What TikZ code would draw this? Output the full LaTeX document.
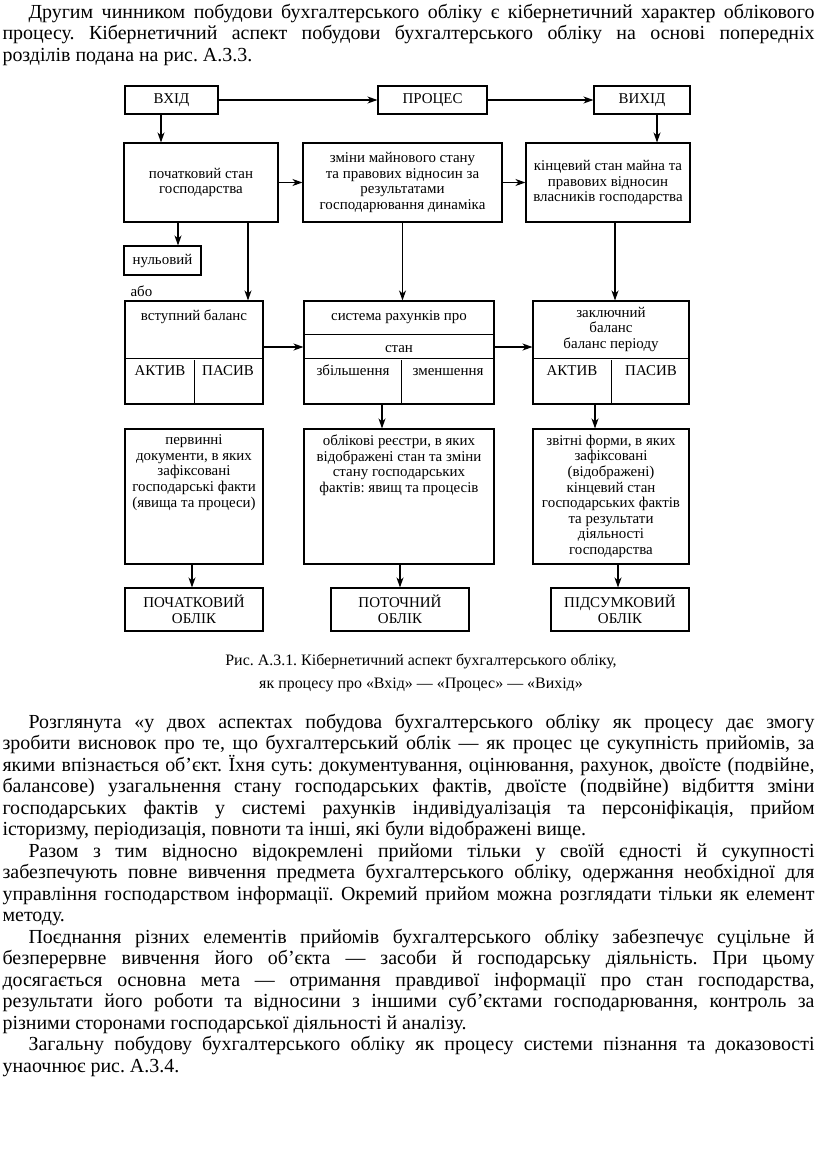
\documentclass[tikz,border=0pt]{standalone}
\usepackage{fontspec}
\setmainfont{Liberation Serif}
\usetikzlibrary{arrows.meta}
\hyphenpenalty=10000
\exhyphenpenalty=10000
\frenchspacing

\begin{document}
\begin{tikzpicture}[x=1bp,y=-1bp,line width=1.1bp,
  box/.style={draw,inner sep=0pt,align=center,font=\fontsize{15}{15.6}\selectfont},
  txt/.style={inner sep=0pt,align=center,font=\fontsize{15}{15.6}\selectfont},
  arr/.style={-{Stealth[length=10bp,width=7bp,inset=3bp]}},
  para/.style={inner sep=0pt,text width=812bp,align=justify,font=\fontsize{20}{21.6}\selectfont},
  capt/.style={inner sep=0pt,align=center,font=\fontsize{16}{23}\selectfont}]
  \useasboundingbox (0,0) rectangle (816,1149);

  % text above the figure
  \node[para,anchor=base west] (intro) at (2,18)
    {\hspace*{26bp}Другим чинником побудови бухгалтерського обліку є кібернетичний характер облікового\linebreak
     процесу. Кібернетичний аспект побудови бухгалтерського обліку на основі попередніх\linebreak
     розділів подана на рис. А.3.3.};

  % top row
  \node[box,minimum width=93bp,minimum height=28bp] (vkhid) at (171.5,100) {ВХІД};
  \node[box,minimum width=109bp,minimum height=28bp] (protses) at (432.5,100) {ПРОЦЕС};
  \node[box,minimum width=96bp,minimum height=28bp] (vykhid) at (642,100) {ВИХІД};

  % states
  \node[box,minimum width=154bp,minimum height=79bp] (pochat) at (201,182.5)
    {початковий стан\\господарства};
  \node[box,minimum width=199bp,minimum height=79bp] (zminy) at (402.5,182.5)
    {зміни майнового стану\\та правових відносин за\\результатами\\господарювання динаміка};
  \node[box,minimum width=164bp,minimum height=79bp] (kinc) at (608,182.5)
    {кінцевий стан майна та\\правових відносин\\власників господарства};
  \node[box,minimum width=77bp,minimum height=29bp] (nulov) at (162.5,260.5) {нульовий};
  \node[txt,anchor=base west] (abo) at (130,296) {або};

  % balances and accounts
  \node[box,minimum width=138bp,minimum height=103bp] (vstup) at (194,352.5) {};
  \node[box,minimum width=190bp,minimum height=103bp] (syst) at (399,352.5) {};
  \node[box,minimum width=156bp,minimum height=103bp] (zakl) at (611,352.5) {};
  \draw ([yshift=-58bp]vstup.north west) -- ([yshift=-58bp]vstup.north east);
  \draw ([xshift=70bp]vstup.south west) -- ++(0,-45);
  \draw ([yshift=-34bp]syst.north west) -- ([yshift=-34bp]syst.north east);
  \draw ([yshift=-58bp]syst.north west) -- ([yshift=-58bp]syst.north east);
  \draw ([xshift=98bp]syst.south west) -- ++(0,-45);
  \draw ([yshift=-58bp]zakl.north west) -- ([yshift=-58bp]zakl.north east);
  \draw ([xshift=79bp]zakl.south west) -- ++(0,-45);
  \node[txt,anchor=base] (vstuptxt) at (194,320) {вступний баланс};
  \node[txt,anchor=base] (aktyv1) at (160,375) {АКТИВ};
  \node[txt,anchor=base] (pasyv1) at (228,375) {ПАСИВ};
  \node[txt,anchor=base] (systtxt) at (399,320) {система рахунків про};
  \node[txt,anchor=base] (stan) at (399,352) {стан};
  \node[txt,anchor=base] (zbilsh) at (353,375) {збільшення};
  \node[txt,anchor=base] (zmensh) at (448,375) {зменшення};
  \node[txt,anchor=north] (zakltxt) at ([yshift=-6bp]zakl.north) {заключний\\баланс\\баланс періоду};
  \node[txt,anchor=base] (aktyv2) at (572,375) {АКТИВ};
  \node[txt,anchor=base] (pasyv2) at (651,375) {ПАСИВ};

  % documents
  \node[box,minimum width=138bp,minimum height=135bp] (pervyn) at (194,496.5) {};
  \node[box,minimum width=190bp,minimum height=135bp] (oblik) at (399,496.5) {};
  \node[box,minimum width=156bp,minimum height=135bp] (zvit) at (611,496.5) {};
  \node[txt,anchor=north] (pervyntxt) at ([yshift=-6bp]pervyn.north)
    {первинні\\документи, в яких\\зафіксовані\\господарські факти\\(явища та процеси)};
  \node[txt,anchor=north] (obliktxt) at ([yshift=-6bp]oblik.north)
    {облікові реєстри, в яких\\відображені стан та зміни\\стану господарських\\фактів: явищ та процесів};
  \node[txt,anchor=north] (zvittxt) at ([yshift=-6bp]zvit.north)
    {звітні форми, в яких\\зафіксовані\\(відображені)\\кінцевий стан\\господарських фактів\\та результати\\діяльності\\господарства};

  % kinds of accounting
  \node[box,minimum width=138bp,minimum height=43bp] (pochob) at (194,609.5) {ПОЧАТКОВИЙ\\ОБЛІК};
  \node[box,minimum width=138bp,minimum height=43bp] (potob) at (400,609.5) {ПОТОЧНИЙ\\ОБЛІК};
  \node[box,minimum width=138bp,minimum height=43bp] (pidsob) at (620,609.5) {ПІДСУМКОВИЙ\\ОБЛІК};

  % arrows
  \draw[arr] (vkhid) -- (protses);
  \draw[arr] (protses) -- (vykhid);
  \draw[arr] ([xshift=-10.5bp]vkhid.south) -- ([xshift=-10.5bp]vkhid.south |- pochat.north);
  \draw[arr] ([xshift=15bp]vykhid.south) -- ([xshift=15bp]vykhid.south |- kinc.north);
  \draw[arr] (pochat) -- (zminy);
  \draw[arr] (zminy) -- (kinc);
  \draw[arr] ([xshift=-23bp]pochat.south) -- ([xshift=-23bp]pochat.south |- nulov.north);
  \draw[arr] ([xshift=47bp]pochat.south) -- ([xshift=47bp]pochat.south |- vstup.north);
  \draw[arr] (zminy.south) -- (zminy.south |- syst.north);
  \draw[arr] ([xshift=7bp]kinc.south) -- ([xshift=7bp]kinc.south |- zakl.north);
  \draw[arr] ([yshift=5.5bp]vstup.east) -- ([yshift=5.5bp]vstup.east -| syst.west);
  \draw[arr] ([yshift=5.5bp]syst.east) -- ([yshift=5.5bp]syst.east -| zakl.west);
  \draw[arr] ([xshift=-17bp]syst.south) -- ([xshift=-17bp]syst.south |- oblik.north);
  \draw[arr] ([xshift=-16bp]zakl.south) -- ([xshift=-16bp]zakl.south |- zvit.north);
  \draw[arr] ([xshift=-2bp]pervyn.south) -- ([xshift=-2bp]pervyn.south |- pochob.north);
  \draw[arr] ([xshift=1bp]oblik.south) -- ([xshift=1bp]oblik.south |- potob.north);
  \draw[arr] ([xshift=7bp]zvit.south) -- ([xshift=7bp]zvit.south |- pidsob.north);

  % caption
  \node[capt] (caption) at (421,673)
    {Рис. А.3.1. Кібернетичний аспект бухгалтерського обліку,\\як процесу про «Вхід» — «Процес» — «Вихід»};

  % text below the figure
  \node[para,anchor=base west] (body) at (2,728)
    {\hspace*{26bp}Розглянута «у двох аспектах побудова бухгалтерського обліку як процесу дає змогу\linebreak
     зробити висновок про те, що бухгалтерський облік — як процес це сукупність прийомів, за\linebreak
     якими впізнається об’єкт. Їхня суть: документування, оцінювання, рахунок, двоїсте (подвійне,\linebreak
     балансове) узагальнення стану господарських фактів, двоїсте (подвійне) відбиття зміни\linebreak
     господарських фактів у системі рахунків індивідуалізація та персоніфікація, прийом\linebreak
     історизму, періодизація, повноти та інші, які були відображені вище.\par
     \hspace*{26bp}Разом з тим відносно відокремлені прийоми тільки у своїй єдності й сукупності\linebreak
     забезпечують повне вивчення предмета бухгалтерського обліку, одержання необхідної для\linebreak
     управління господарством інформації. Окремий прийом можна розглядати тільки як елемент\linebreak
     методу.\par
     \hspace*{26bp}Поєднання різних елементів прийомів бухгалтерського обліку забезпечує суцільне й\linebreak
     безперервне вивчення його об’єкта — засоби й господарську діяльність. При цьому\linebreak
     досягається основна мета — отримання правдивої інформації про стан господарства,\linebreak
     результати його роботи та відносини з іншими суб’єктами господарювання, контроль за\linebreak
     різними сторонами господарської діяльності й аналізу.\par
     \hspace*{26bp}Загальну побудову бухгалтерського обліку як процесу системи пізнання та доказовості\linebreak
     унаочнює рис. А.3.4.};
\end{tikzpicture}
\end{document}
